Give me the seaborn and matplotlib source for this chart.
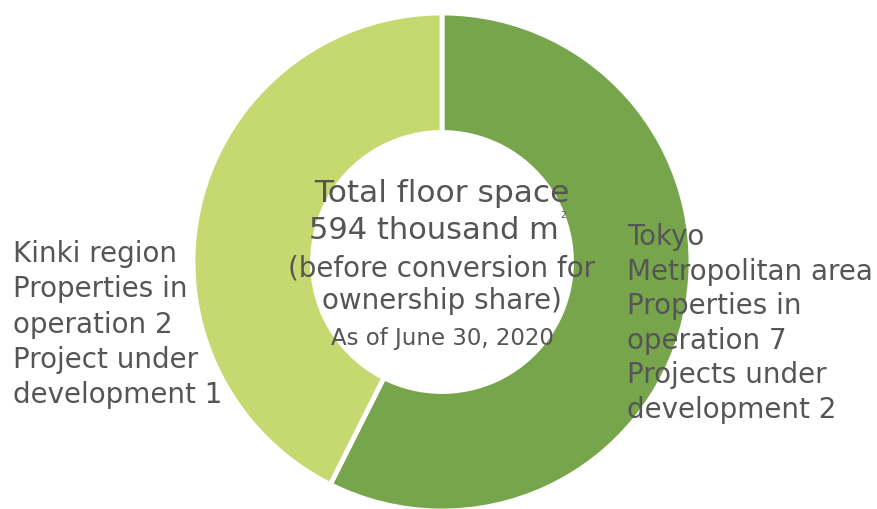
import matplotlib
matplotlib.use("Agg")
import matplotlib.pyplot as plt
import seaborn as sns

# floor space (thousand m2)
regions = ["Tokyo Metropolitan area", "Kinki region"]
floor_space = [341, 253]
colors = ["#77A54B", "#C5D970"]

center_lines = ["Total floor space", "594 thousand m",
                "(before conversion for", "ownership share)",
                "As of June 30, 2020"]
kinki_label = "Kinki region\nProperties in\noperation 2\nProject under\ndevelopment 1"
tokyo_label = ("Tokyo\nMetropolitan area\nProperties in\noperation 7\n"
               "Projects under\ndevelopment 2")

sns.set_theme(style="white")
plt.rcParams["font.family"] = ["DejaVu Sans"]
txt = "#555555"

W, H = 877, 509
fig = plt.figure(figsize=(W / 100, H / 100), dpi=100)
ax = fig.add_axes([0, 0, 1, 1])

cx, cy, r = 442, H - 262, 249
ax.pie(floor_space, colors=colors, startangle=90, counterclock=False,
       center=(cx, cy), radius=r, frame=True,
       wedgeprops=dict(width=r * 0.48, edgecolor="white", linewidth=3.5))
ax.set_xlim(0, W)
ax.set_ylim(0, H)
ax.set_aspect("equal")
ax.axis("off")

# centre text (pixel y measured from the top)
ax.text(cx, H - 193, center_lines[0], ha="center", va="center", fontsize=22.5, color=txt)
ax.text(434, H - 230, center_lines[1], ha="center", va="center", fontsize=22, color=txt)
ax.text(563, H - 215, "2", ha="center", va="center", fontsize=6.5, color=txt)
ax.text(cx, H - 268, center_lines[2], ha="center", va="center", fontsize=20, color=txt)
ax.text(cx, H - 301, center_lines[3], ha="center", va="center", fontsize=20, color=txt)
ax.text(cx, H - 339, center_lines[4], ha="center", va="center", fontsize=16.5, color=txt)

ax.text(13, H - 240, kinki_label, ha="left", va="top", fontsize=20,
        color=txt, linespacing=1.33)
ax.text(627, H - 223, tokyo_label, ha="left", va="top", fontsize=20,
        color=txt, linespacing=1.3)

fig.savefig("out.png", dpi=100)
